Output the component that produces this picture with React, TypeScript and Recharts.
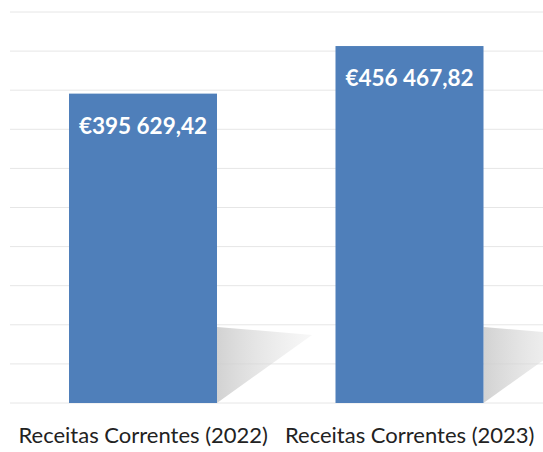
import { BarChart, Bar, XAxis, YAxis, CartesianGrid, LabelList } from "recharts";

const categories = ["Receitas Correntes (2022)", "Receitas Correntes (2023)"];
const receitas = [395629.42, 456467.82];
const yTicks = [0, 50000, 100000, 150000, 200000, 250000, 300000, 350000, 400000, 450000, 500000];

const data = categories.map((name, i) => ({ name, value: receitas[i] }));

// "€395 629,42" — space for thousands, comma for decimals
const fmtEuro = (v: any) => {
  const [int, dec] = Number(v).toFixed(2).split(".");
  return "€" + int.replace(/\B(?=(\d{3})+(?!\d))/g, " ") + "," + dec;
};

// bar with the soft grey drop shadow falling to its right
const ShadowBar = (props: any) => {
  const { x, y, width, height, fill } = props;
  const bx = x + width;
  const by = y + height;
  return (
    <g>
      <polygon points={`${bx},${by - 76} ${bx + 95},${by - 68} ${bx},${by}`} fill="url(#shadowFade)" />
      <rect x={x} y={y} width={width} height={height} fill={fill} />
    </g>
  );
};

export default function App() {
  return (
    <div style={{ position: "absolute", left: 0, top: 0, background: "#fff" }}>
      <BarChart width={543} height={452} data={data} margin={{ top: 12, right: 0, left: 10, bottom: 0 }} barSize={148}>
        <defs>
          <linearGradient id="shadowFade" x1="0" y1="0" x2="1" y2="0">
            <stop offset="0%" stopColor="#cdcdcd" stopOpacity={0.9} />
            <stop offset="100%" stopColor="#e6e6e6" stopOpacity={0.3} />
          </linearGradient>
        </defs>
        <CartesianGrid vertical={false} stroke="#e6e6e6" />
        <XAxis dataKey="name" axisLine={false} tickLine={false} interval={0} height={49}
          tick={{ fontSize: 22, fill: "#222", fontFamily: "Lato" }} dy={16} />
        <YAxis hide domain={[0, 500000]} ticks={yTicks} />
        <Bar dataKey="value" fill="#4f7fba" isAnimationActive={false} shape={<ShadowBar />}>
          <LabelList dataKey="value" position="insideTop" offset={24} formatter={fmtEuro}
            style={{ fill: "#fff", fontSize: 22.5, fontWeight: 700, fontFamily: "Lato" }} />
        </Bar>
      </BarChart>
    </div>
  );
}
